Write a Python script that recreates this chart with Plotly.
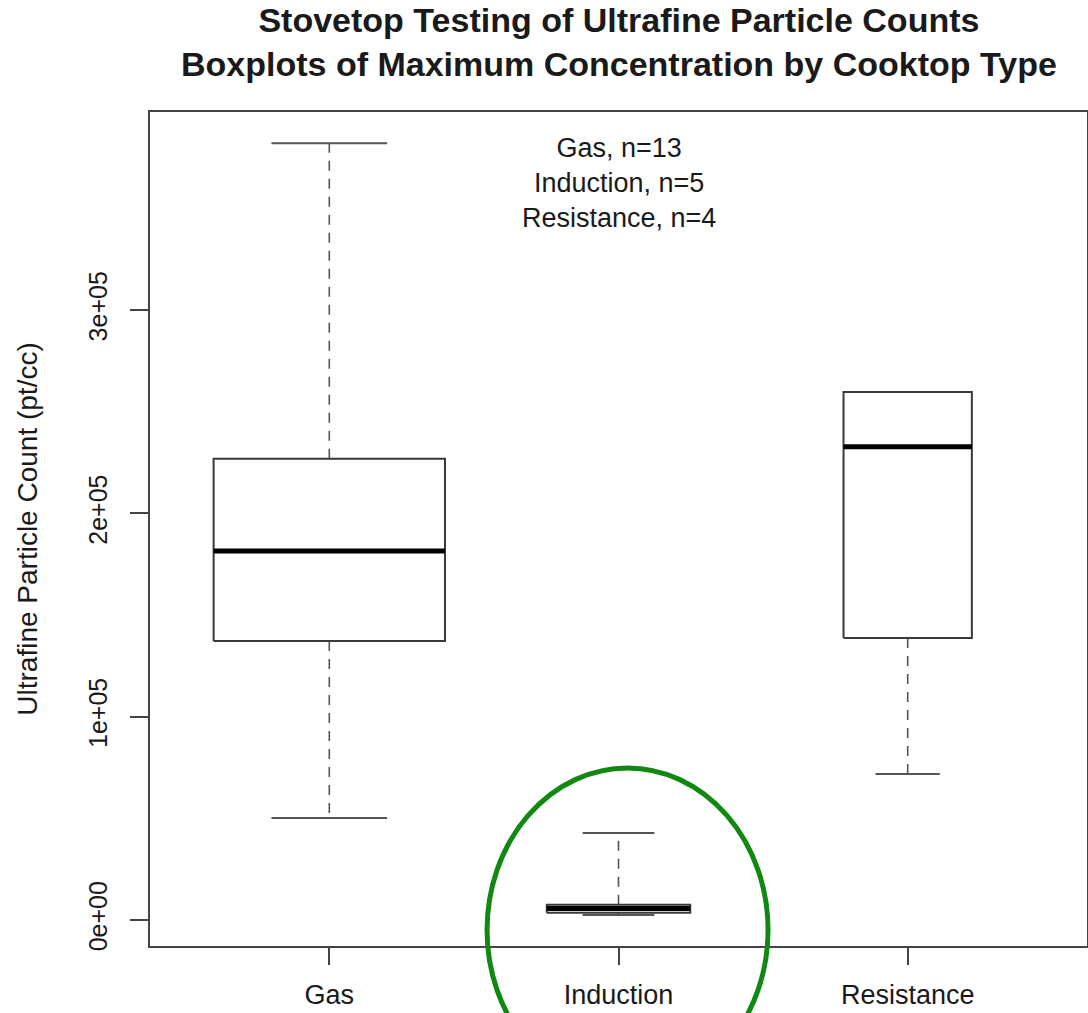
import numpy as np
import plotly.graph_objects as go

# Summary statistics of the maximum ultrafine particle concentration (pt/cc)
cooktops = ["Gas", "Induction", "Resistance"]
n_tests = [13, 5, 4]
lower_whisker = [50200, 2400, 71800]
q1 = [137200, 3600, 138700]
median = [181500, 5700, 232700]
q3 = [226800, 7500, 259700]
upper_whisker = [382000, 42800, 259700]

y_tickvals = [0, 100000, 200000, 300000]
y_ticktext = ["0e+00", "1e+05", "2e+05", "3e+05"]

FONT = "Liberation Sans, Arial, Helvetica, sans-serif"
INK = "#1a1a1a"

positions = np.arange(1, len(cooktops) + 1)
# box widths scale with sqrt(n), widest box = 0.8
widths = 0.8 * np.sqrt(np.array(n_tests) / max(n_tests))

box_x, box_y = [], []
med_x, med_y = [], []
wh_x, wh_y = [], []
cap_x, cap_y = [], []
for c, w, lo, a, m, b, hi in zip(positions, widths, lower_whisker, q1, median, q3, upper_whisker):
    l, r = c - w / 2, c + w / 2
    box_x += [l, r, r, l, l, None]
    box_y += [a, a, b, b, a, None]
    med_x += [l, r, None]
    med_y += [m, m, None]
    wh_x += [c, c, None, c, c, None]
    wh_y += [b, hi, None, a, lo, None]
    cap_x += [c - w / 4, c + w / 4, None, c - w / 4, c + w / 4, None]
    cap_y += [hi, hi, None, lo, lo, None]

fig = go.Figure()
fig.add_trace(go.Scatter(x=wh_x, y=wh_y, mode="lines", hoverinfo="skip",
                         line=dict(color="#555555", width=1.6, dash="10px,8px")))
fig.add_trace(go.Scatter(x=cap_x, y=cap_y, mode="lines", hoverinfo="skip",
                         line=dict(color="#555555", width=2)))
fig.add_trace(go.Scatter(x=box_x, y=box_y, mode="lines", fill="toself", fillcolor="white",
                         hoverinfo="skip", line=dict(color="#3a3a3a", width=2)))
fig.add_trace(go.Scatter(x=med_x, y=med_y, mode="lines", hoverinfo="skip",
                         line=dict(color="black", width=5)))

# sample size note
fig.add_annotation(
    x=2, xref="x", y=0.977, yref="paper", yanchor="top",
    text="<br>".join(f"{c}, n={n}" for c, n in zip(cooktops, n_tests)),
    showarrow=False, align="center",
    font=dict(family=FONT, size=27, color=INK),
)

# two-line bold heading
fig.add_annotation(
    x=0.5, xref="paper", xanchor="center",
    y=1.136, yref="paper", yanchor="top",
    text="<b>Stovetop Testing of Ultrafine Particle Counts<br>"
         "Boxplots of Maximum Concentration by Cooktop Type</b>",
    showarrow=False, align="center",
    font=dict(family=FONT, size=34, color=INK),
)

# highlight around the induction cooktop
fig.add_shape(type="circle", xref="paper", yref="paper",
              x0=0.3597, x1=0.6596, y0=-0.175, y1=0.2134,
              line=dict(color="#118811", width=5), layer="above")

fig.update_layout(
    width=1088, height=1013, autosize=False,
    margin=dict(l=150, r=1, t=112, b=67),
    plot_bgcolor="white", paper_bgcolor="white",
    showlegend=False,
    font=dict(family=FONT, color=INK),
)
fig.update_xaxes(
    range=[0.38, 3.62], tickvals=list(positions), ticktext=cooktops,
    ticks="outside", ticklen=17, tickwidth=1.5, tickcolor="#444444",
    ticklabelstandoff=7, automargin=False,
    showline=True, mirror=True, linecolor="#444444", linewidth=2,
    showgrid=False, zeroline=False,
    tickfont=dict(family=FONT, size=27, color=INK),
)
fig.update_yaxes(
    range=[-12800, 397400], tickvals=y_tickvals, ticktext=y_ticktext,
    tickangle=-90, ticks="outside", ticklen=18, tickwidth=1.5, tickcolor="#444444",
    ticklabelstandoff=13, automargin=False,
    showline=True, mirror=True, linecolor="#444444", linewidth=2,
    showgrid=False, zeroline=False,
    tickfont=dict(family=FONT, size=25, color=INK),
    title=dict(text="Ultrafine Particle Count (pt/cc)", standoff=38,
               font=dict(family=FONT, size=28, color=INK)),
)

fig.write_html("out.html")
